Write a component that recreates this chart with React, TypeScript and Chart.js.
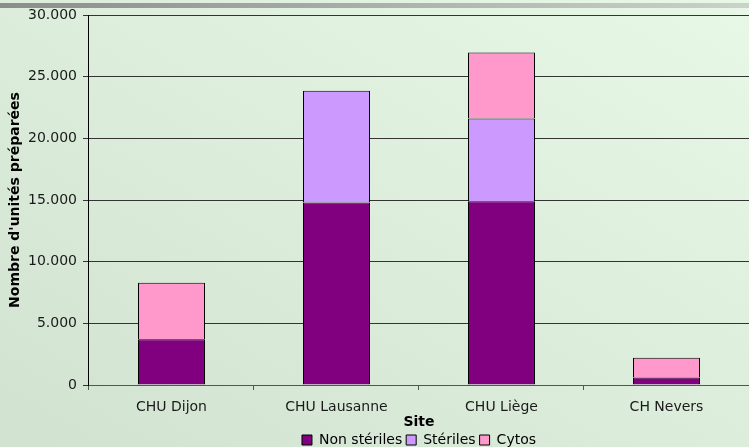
import React, { useEffect, useRef } from "react";
import { Chart, registerables } from "chart.js";

Chart.register(...registerables);

const categories = ["CHU Dijon", "CHU Lausanne", "CHU Liège", "CH Nevers"];
const nonSteriles = [3700, 14800, 14900, 600];
const steriles = [null, 9050, 6700, null];
const cytos = [4600, null, 5350, 1600];
const yTicks = [0, 5000, 10000, 15000, 20000, 25000, 30000];

const FONT = "'DejaVu Sans', Verdana, sans-serif";
const BORDER = { top: 1, left: 1, right: 1, bottom: 0 };

function fmt(v: number): string {
  return String(Math.round(v)).replace(/\B(?=(\d{3})+(?!\d))/g, ".");
}

export default function App() {
  const ref = useRef<HTMLCanvasElement | null>(null);
  useEffect(() => {
    if (!ref.current) return;
    const chart = new Chart(ref.current, {
      type: "bar",
      data: {
        labels: categories,
        datasets: [
          { label: "Non stériles", data: nonSteriles, backgroundColor: "#800080", borderColor: "#000", borderWidth: BORDER, borderSkipped: false },
          { label: "Stériles", data: steriles, backgroundColor: "#CC99FF", borderColor: "#000", borderWidth: BORDER, borderSkipped: false },
          { label: "Cytos", data: cytos, backgroundColor: "#FF99CC", borderColor: "#000", borderWidth: BORDER, borderSkipped: false },
        ] as any,
      },
      options: {
        animation: false,
        responsive: false,
        layout: { padding: { left: 4, top: 15, right: 0, bottom: -10 } },
        datasets: { bar: { categoryPercentage: 1, barPercentage: 0.406 } } as any,
        plugins: {
          tooltip: { enabled: false },
          legend: {
            position: "bottom",
            fullSize: false,
            labels: {
              boxWidth: 10,
              boxHeight: 10,
              padding: 4,
              color: "#000",
              font: { family: FONT, size: 14, lineHeight: 1 },
              generateLabels: (c: any) => {
                const base = Chart.defaults.plugins.legend.labels.generateLabels(c);
                return base.map((l: any) => ({ ...l, lineWidth: 1, strokeStyle: "#000" }));
              },
            },
          },
        },
        scales: {
          x: {
            stacked: true,
            grid: { display: true, drawOnChartArea: false, drawTicks: true, tickLength: 5, color: "#555", offset: true },
            border: { color: "#555", width: 1 },
            ticks: { color: "#1a1a1a", padding: 10, font: { family: FONT, size: 14, lineHeight: 1 } },
            title: { display: true, text: "Site", color: "#000", padding: { top: -9, bottom: 0 }, font: { family: FONT, size: 14, weight: "bold", lineHeight: 1 } },
          },
          y: {
            stacked: true,
            min: 0,
            max: 30000,
            afterBuildTicks: (s: any) => { s.ticks = yTicks.map((v) => ({ value: v })); },
            grid: { color: "#333", lineWidth: 1, tickLength: 6, drawTicks: true },
            border: { color: "#000", width: 1 },
            ticks: { color: "#1a1a1a", padding: 6, font: { family: FONT, size: 14, lineHeight: 1 }, callback: (v: any) => fmt(Number(v)) },
            title: { display: true, text: "Nombre d'unités préparées", color: "#000", padding: { top: 4, bottom: 0 }, font: { family: FONT, size: 14, weight: "bold", lineHeight: 1 } },
          },
        },
      } as any,
    });
    return () => chart.destroy();
  }, []);
  return (
    <div
      style={{
        position: "absolute",
        left: 0,
        top: 0,
        width: 749,
        height: 447,
        background: "linear-gradient(to top right, #D2E2D1, #E8F8E6)",
        overflow: "hidden",
      }}
    >
      <div
        style={{
          position: "absolute",
          left: 0,
          top: 3,
          width: 749,
          height: 5,
          background: "linear-gradient(to right, #8C8C8C, #C9D3C9)",
        }}
      />
      <canvas ref={ref} width={749} height={447} style={{ position: "absolute", left: 0, top: 0 }} />
    </div>
  );
}
